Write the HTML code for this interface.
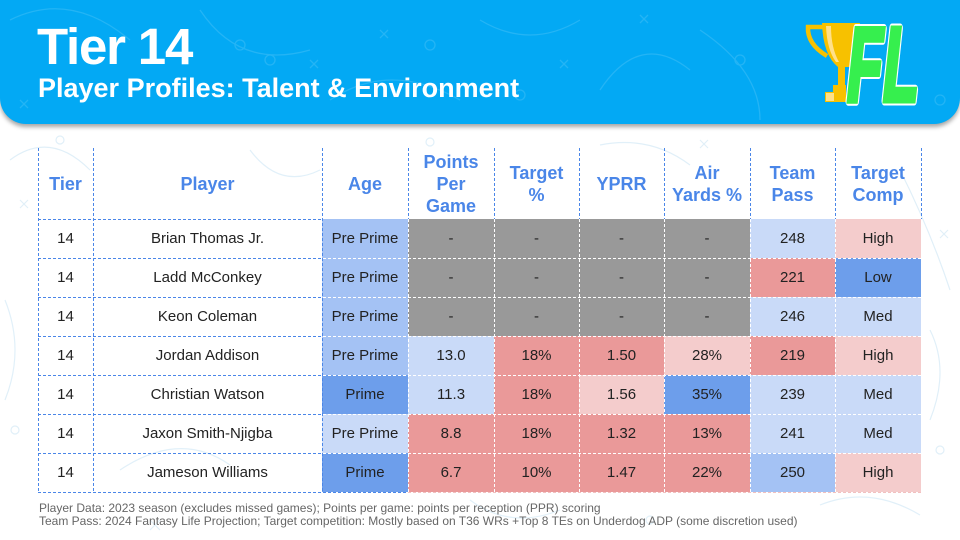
<!DOCTYPE html>
<html><head><meta charset="utf-8">
<style>
*{margin:0;padding:0;box-sizing:border-box}
body{width:960px;height:540px;overflow:hidden;background:#fff;position:relative;font-family:"Liberation Sans",sans-serif}
.banner{position:absolute;left:0;top:0;width:960px;height:124px;background:#03a9f4;border-radius:0 0 26px 26px;box-shadow:0 3px 4px rgba(0,0,0,0.35);overflow:hidden}
.t1{position:absolute;left:37px;top:21px;font-size:51px;line-height:51px;font-weight:bold;color:#fff;letter-spacing:-1.2px;white-space:nowrap}
.t2{position:absolute;left:38px;top:75px;font-size:27px;line-height:27px;font-weight:bold;color:#fff;white-space:nowrap}
.c{position:absolute;display:flex;align-items:center;justify-content:center;font-size:15px;color:#222;white-space:nowrap}
.h{position:absolute;display:flex;align-items:center;justify-content:center;text-align:center;font-size:18px;line-height:22px;font-weight:bold;color:#4a86e8;white-space:nowrap}
.foot{position:absolute;left:39px;top:502px;font-size:12px;line-height:13px;color:#666;white-space:nowrap}
</style></head><body>

<svg style="position:absolute;left:0;top:0" width="960" height="540">
 <g fill="none" stroke="#d4e9f6" stroke-width="1.2" opacity="0.7">
  <path d="M10 160 q40 -30 80 10"/><path d="M120 470 q60 -40 110 -5"/><path d="M250 150 q30 40 70 20"/>
  <path d="M600 145 q50 -10 90 20"/><path d="M900 170 q30 60 50 120"/><path d="M930 330 q20 40 0 90"/>
  <path d="M5 300 q20 50 0 100"/><path d="M470 500 q40 30 90 10"/><path d="M820 505 q50 -20 100 10"/>
  <path d="M150 520 l10 10 M160 520 l-10 10"/><path d="M700 140 l8 8 M708 140 l-8 8"/>
  <path d="M20 200 l8 8 M28 200 l-8 8"/><path d="M940 230 l8 8 M948 230 l-8 8"/>
  <circle cx="60" cy="140" r="4"/><circle cx="430" cy="142" r="4"/><circle cx="940" cy="450" r="4"/>
  <circle cx="15" cy="430" r="4"/><circle cx="650" cy="520" r="4"/>
 </g>
</svg>

<div class="banner">
 <svg style="position:absolute;left:0;top:0" width="960" height="124">
  <g fill="none" stroke="#ffffff" stroke-width="1.3" opacity="0.13">
   <path d="M10 20 q60 -30 120 20"/><path d="M200 10 q40 60 110 40"/><path d="M330 100 q60 -40 130 0"/>
   <path d="M480 20 q50 30 100 0"/><path d="M600 90 q40 -60 90 -20"/><path d="M700 30 q60 40 60 90"/>
   <path d="M380 30 l8 8 M388 30 l-8 8"/><path d="M560 60 l8 8 M568 60 l-8 8"/><path d="M310 60 l8 8 M318 60 l-8 8"/>
   <path d="M20 100 l8 8 M28 100 l-8 8"/><path d="M640 15 l8 8 M648 15 l-8 8"/>
   <circle cx="240" cy="45" r="5"/><circle cx="270" cy="60" r="5"/><circle cx="520" cy="95" r="5"/>
   <circle cx="430" cy="45" r="5"/><circle cx="740" cy="60" r="5"/><circle cx="940" cy="100" r="5"/>
  </g>
 </svg>
 <div class="t1">Tier 14</div>
 <div class="t2">Player Profiles: Talent &amp; Environment</div>
 <svg style="position:absolute;left:780px;top:0" width="180" height="124" viewBox="780 0 180 124">
  <!-- handle -->
  <path d="M824 27 L808 27 Q807 44 827 56" fill="none" stroke="#f7c100" stroke-width="4.5"/>
  <!-- cup -->
  <path d="M822 23 L860 23 L852 67 L845 67 L845 85 L838 85 L838 67 Q823 55 822 23 Z" fill="#f7c100"/>
  <path d="M826 26 L831 26 Q831 48 839 62 L836 62 Q827 50 826 26 Z" fill="#ffe08a"/>
  <!-- base -->
  <path d="M833 85 L846 85 L846 102 L825 102 L825 92 L833 92 Z" fill="#f7c100"/>
  <path d="M826 93 L834 93 L834 101 L826 101 Z" fill="#ffe08a"/>
  <text x="847" y="101" font-family="Liberation Sans, sans-serif" font-weight="bold" font-style="italic" font-size="106" textLength="72" lengthAdjust="spacingAndGlyphs" fill="#ffffff" stroke="#ffffff" stroke-width="9" stroke-linejoin="round">FL</text>
  <text x="847" y="101" font-family="Liberation Sans, sans-serif" font-weight="bold" font-style="italic" font-size="106" textLength="72" lengthAdjust="spacingAndGlyphs" fill="#36ef4e" stroke="#36ef4e" stroke-width="5" stroke-linejoin="miter">FL</text>
 </svg>
</div>

<!-- header -->
<div class="h" style="left:38px;top:148px;width:55px;height:71px">Tier</div>
<div class="h" style="left:93px;top:148px;width:229px;height:71px">Player</div>
<div class="h" style="left:322px;top:148px;width:86px;height:71px">Age</div>
<div class="h" style="left:408px;top:148px;width:86px;height:71px">Points<br>Per<br>Game</div>
<div class="h" style="left:494px;top:148px;width:85px;height:71px">Target<br>%</div>
<div class="h" style="left:579px;top:148px;width:85px;height:71px">YPRR</div>
<div class="h" style="left:664px;top:148px;width:86px;height:71px">Air<br>Yards %</div>
<div class="h" style="left:750px;top:148px;width:85px;height:71px">Team<br>Pass</div>
<div class="h" style="left:835px;top:148px;width:86px;height:71px">Target<br>Comp</div>

<!-- row 1 -->
<div class="c" style="left:38px;top:219px;width:55px;height:39px">14</div>
<div class="c" style="left:93px;top:219px;width:229px;height:39px">Brian Thomas Jr.</div>
<div class="c" style="left:322px;top:219px;width:86px;height:39px;background:#a4c2f4">Pre Prime</div>
<div class="c" style="left:408px;top:219px;width:86px;height:39px;background:#999">-</div>
<div class="c" style="left:494px;top:219px;width:85px;height:39px;background:#999">-</div>
<div class="c" style="left:579px;top:219px;width:85px;height:39px;background:#999">-</div>
<div class="c" style="left:664px;top:219px;width:86px;height:39px;background:#999">-</div>
<div class="c" style="left:750px;top:219px;width:85px;height:39px;background:#c9daf8">248</div>
<div class="c" style="left:835px;top:219px;width:86px;height:39px;background:#f4cccc">High</div>
<!-- row 2 -->
<div class="c" style="left:38px;top:258px;width:55px;height:39px">14</div>
<div class="c" style="left:93px;top:258px;width:229px;height:39px">Ladd McConkey</div>
<div class="c" style="left:322px;top:258px;width:86px;height:39px;background:#a4c2f4">Pre Prime</div>
<div class="c" style="left:408px;top:258px;width:86px;height:39px;background:#999">-</div>
<div class="c" style="left:494px;top:258px;width:85px;height:39px;background:#999">-</div>
<div class="c" style="left:579px;top:258px;width:85px;height:39px;background:#999">-</div>
<div class="c" style="left:664px;top:258px;width:86px;height:39px;background:#999">-</div>
<div class="c" style="left:750px;top:258px;width:85px;height:39px;background:#ea9999">221</div>
<div class="c" style="left:835px;top:258px;width:86px;height:39px;background:#6d9eeb">Low</div>
<!-- row 3 -->
<div class="c" style="left:38px;top:297px;width:55px;height:39px">14</div>
<div class="c" style="left:93px;top:297px;width:229px;height:39px">Keon Coleman</div>
<div class="c" style="left:322px;top:297px;width:86px;height:39px;background:#a4c2f4">Pre Prime</div>
<div class="c" style="left:408px;top:297px;width:86px;height:39px;background:#999">-</div>
<div class="c" style="left:494px;top:297px;width:85px;height:39px;background:#999">-</div>
<div class="c" style="left:579px;top:297px;width:85px;height:39px;background:#999">-</div>
<div class="c" style="left:664px;top:297px;width:86px;height:39px;background:#999">-</div>
<div class="c" style="left:750px;top:297px;width:85px;height:39px;background:#c9daf8">246</div>
<div class="c" style="left:835px;top:297px;width:86px;height:39px;background:#c9daf8">Med</div>
<!-- row 4 -->
<div class="c" style="left:38px;top:336px;width:55px;height:39px">14</div>
<div class="c" style="left:93px;top:336px;width:229px;height:39px">Jordan Addison</div>
<div class="c" style="left:322px;top:336px;width:86px;height:39px;background:#a4c2f4">Pre Prime</div>
<div class="c" style="left:408px;top:336px;width:86px;height:39px;background:#c9daf8">13.0</div>
<div class="c" style="left:494px;top:336px;width:85px;height:39px;background:#ea9999">18%</div>
<div class="c" style="left:579px;top:336px;width:85px;height:39px;background:#ea9999">1.50</div>
<div class="c" style="left:664px;top:336px;width:86px;height:39px;background:#f4cccc">28%</div>
<div class="c" style="left:750px;top:336px;width:85px;height:39px;background:#ea9999">219</div>
<div class="c" style="left:835px;top:336px;width:86px;height:39px;background:#f4cccc">High</div>
<!-- row 5 -->
<div class="c" style="left:38px;top:375px;width:55px;height:39px">14</div>
<div class="c" style="left:93px;top:375px;width:229px;height:39px">Christian Watson</div>
<div class="c" style="left:322px;top:375px;width:86px;height:39px;background:#6d9eeb">Prime</div>
<div class="c" style="left:408px;top:375px;width:86px;height:39px;background:#c9daf8">11.3</div>
<div class="c" style="left:494px;top:375px;width:85px;height:39px;background:#ea9999">18%</div>
<div class="c" style="left:579px;top:375px;width:85px;height:39px;background:#f4cccc">1.56</div>
<div class="c" style="left:664px;top:375px;width:86px;height:39px;background:#6d9eeb">35%</div>
<div class="c" style="left:750px;top:375px;width:85px;height:39px;background:#c9daf8">239</div>
<div class="c" style="left:835px;top:375px;width:86px;height:39px;background:#c9daf8">Med</div>
<!-- row 6 -->
<div class="c" style="left:38px;top:414px;width:55px;height:39px">14</div>
<div class="c" style="left:93px;top:414px;width:229px;height:39px">Jaxon Smith-Njigba</div>
<div class="c" style="left:322px;top:414px;width:86px;height:39px;background:#c9daf8">Pre Prime</div>
<div class="c" style="left:408px;top:414px;width:86px;height:39px;background:#ea9999">8.8</div>
<div class="c" style="left:494px;top:414px;width:85px;height:39px;background:#ea9999">18%</div>
<div class="c" style="left:579px;top:414px;width:85px;height:39px;background:#ea9999">1.32</div>
<div class="c" style="left:664px;top:414px;width:86px;height:39px;background:#ea9999">13%</div>
<div class="c" style="left:750px;top:414px;width:85px;height:39px;background:#c9daf8">241</div>
<div class="c" style="left:835px;top:414px;width:86px;height:39px;background:#c9daf8">Med</div>
<!-- row 7 -->
<div class="c" style="left:38px;top:453px;width:55px;height:39px">14</div>
<div class="c" style="left:93px;top:453px;width:229px;height:39px">Jameson Williams</div>
<div class="c" style="left:322px;top:453px;width:86px;height:39px;background:#6d9eeb">Prime</div>
<div class="c" style="left:408px;top:453px;width:86px;height:39px;background:#ea9999">6.7</div>
<div class="c" style="left:494px;top:453px;width:85px;height:39px;background:#ea9999">10%</div>
<div class="c" style="left:579px;top:453px;width:85px;height:39px;background:#ea9999">1.47</div>
<div class="c" style="left:664px;top:453px;width:86px;height:39px;background:#ea9999">22%</div>
<div class="c" style="left:750px;top:453px;width:85px;height:39px;background:#a4c2f4">250</div>
<div class="c" style="left:835px;top:453px;width:86px;height:39px;background:#f4cccc">High</div>

<!-- grid lines -->
<svg style="position:absolute;left:0;top:0" width="960" height="540">
 <g stroke="#4a86e8" stroke-width="1" stroke-dasharray="3 2" fill="none">
  <path d="M38.5 148 V492 M93.5 148 V492 M322.5 148 V492"/>
  <path d="M408.5 148 V219 M494.5 148 V219 M579.5 148 V219 M664.5 148 V219 M750.5 148 V219 M835.5 148 V219 M921.5 148 V219"/>
  <path d="M38 219.5 H322 M38 258.5 H322 M38 297.5 H322 M38 336.5 H322 M38 375.5 H322 M38 414.5 H322 M38 453.5 H322 M38 492.5 H408"/>
 </g>
 <g stroke="#ffffff" stroke-width="1" stroke-dasharray="3 2" fill="none">
  <path d="M408.5 219 V492 M494.5 219 V492 M579.5 219 V492 M664.5 219 V492 M750.5 219 V492 M835.5 219 V492 M921.5 219 V492"/>
  <path d="M323 258.5 H921 M323 297.5 H921 M323 336.5 H921 M323 375.5 H921 M323 414.5 H921 M323 453.5 H921"/>
 </g>
 <path d="M408 492.5 H921" stroke="#f2c0c0" stroke-width="1" stroke-dasharray="3 2"/>
</svg>

<div class="foot">Player Data: 2023 season (excludes missed games); Points per game: points per reception (PPR) scoring<br>Team Pass: 2024 Fantasy Life Projection; Target competition: Mostly based on T36 WRs +Top 8 TEs on Underdog ADP (some discretion used)</div>

</body></html>
